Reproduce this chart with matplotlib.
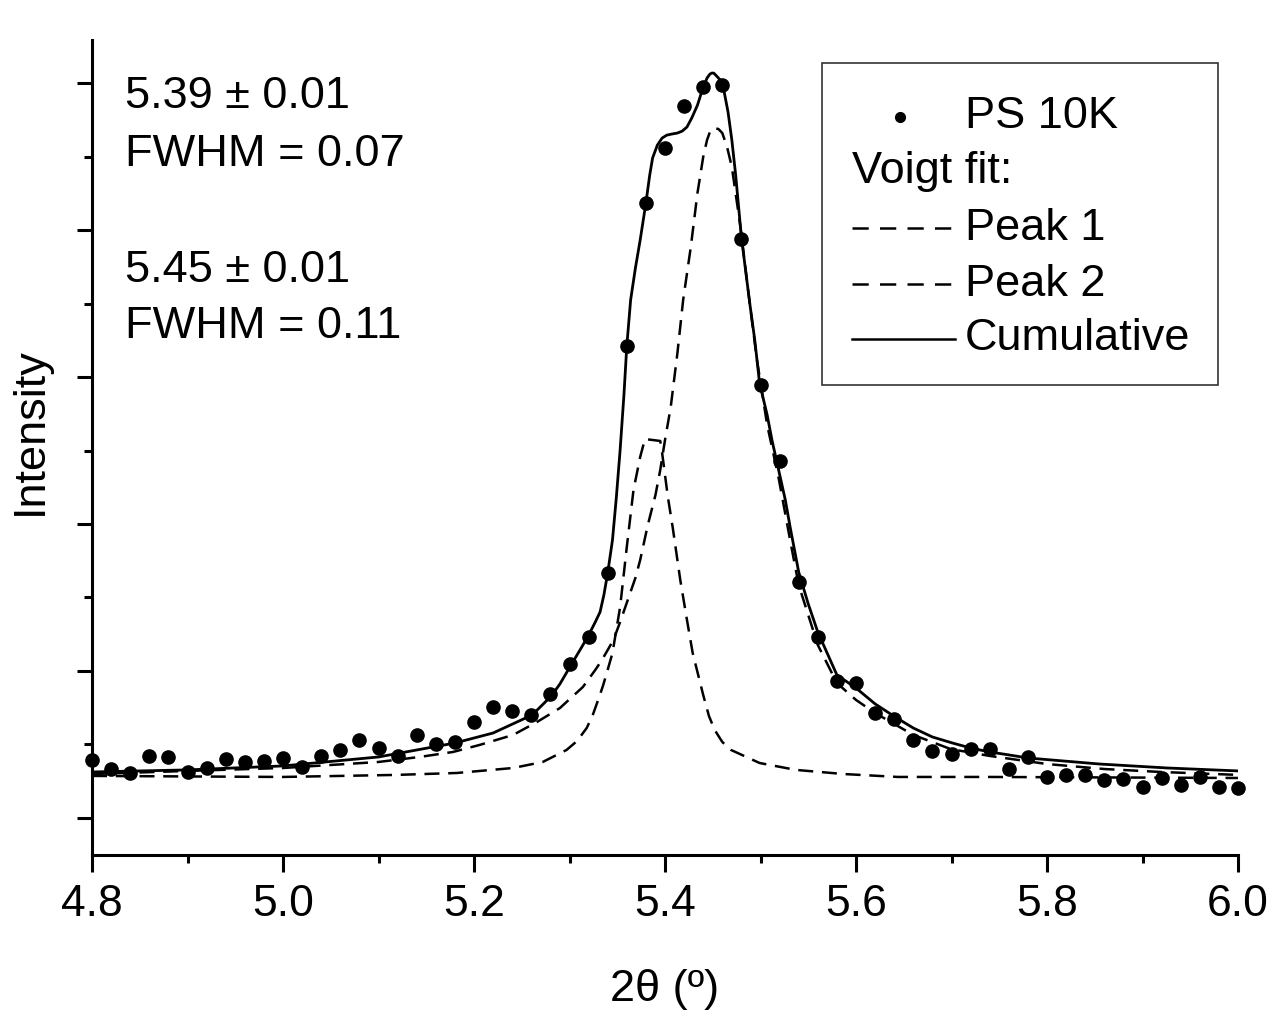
import matplotlib
matplotlib.use("Agg")
import matplotlib.pyplot as plt
from matplotlib.lines import Line2D
from matplotlib.patches import Rectangle
from matplotlib.ticker import MultipleLocator

plt.rcParams['font.family'] = ['Liberation Sans', 'DejaVu Sans']

# ---- measured data (2theta step 0.02) ----
two_theta = [4.80 + 0.02 * i for i in range(61)]
intensity = [0.395, 0.333, 0.306, 0.422, 0.415, 0.313, 0.340, 0.401, 0.381, 0.388,
             0.408, 0.347, 0.422, 0.463, 0.531, 0.476, 0.422, 0.565, 0.503, 0.517,
             0.653, 0.755, 0.728, 0.701, 0.844, 1.048, 1.231, 1.667, 3.211, 4.184,
             4.558, 4.844, 4.973, 4.986, 3.939, 2.946, 2.429, 1.605, 1.231, 0.932,
             0.918, 0.714, 0.673, 0.531, 0.456, 0.435, 0.469, 0.469, 0.333, 0.415,
             0.279, 0.293, 0.293, 0.259, 0.265, 0.211, 0.272, 0.224, 0.279, 0.211,
             0.204]

# ---- Voigt fit curves ----
cum_x = [4.800, 4.900, 5.000, 5.100, 5.180, 5.220, 5.261, 5.281, 5.290, 5.301,
         5.311, 5.319, 5.327, 5.332, 5.336, 5.340, 5.345, 5.349, 5.353, 5.357,
         5.360, 5.364, 5.369, 5.374, 5.380, 5.384, 5.387, 5.392, 5.397, 5.402,
         5.407, 5.413, 5.418, 5.423, 5.428, 5.434, 5.439, 5.444, 5.447, 5.449,
         5.451, 5.454, 5.458, 5.462, 5.466, 5.470, 5.474, 5.480, 5.485, 5.489,
         5.494, 5.499, 5.507, 5.512, 5.519, 5.526, 5.531, 5.536, 5.540, 5.550,
         5.560, 5.580, 5.600, 5.620, 5.641, 5.660, 5.680, 5.701, 5.720, 5.740,
         5.760, 5.780, 5.855, 5.926, 6.000]
cum_y = [0.313, 0.327, 0.354, 0.415, 0.510, 0.578, 0.701, 0.830, 0.912, 1.034,
         1.143, 1.231, 1.333, 1.401, 1.517, 1.667, 1.891, 2.177, 2.503, 2.878,
         3.211, 3.524, 3.741, 3.932, 4.184, 4.374, 4.490, 4.578, 4.626, 4.646,
         4.653, 4.660, 4.673, 4.701, 4.762, 4.850, 4.952, 5.034, 5.061, 5.068,
         5.068, 5.048, 5.020, 4.939, 4.803, 4.612, 4.374, 3.952, 3.694, 3.490,
         3.252, 2.959, 2.741, 2.571, 2.367, 2.163, 1.980, 1.810, 1.673, 1.456,
         1.265, 0.973, 0.884, 0.776, 0.687, 0.612, 0.551, 0.510, 0.476, 0.449,
         0.429, 0.408, 0.367, 0.340, 0.320]

peak1_x = [4.800, 5.000, 5.119, 5.182, 5.241, 5.272, 5.297, 5.308, 5.318, 5.324,
           5.330, 5.335, 5.339, 5.345, 5.353, 5.360, 5.367, 5.374, 5.379, 5.395,
           5.397, 5.403, 5.408, 5.416, 5.423, 5.429, 5.440, 5.446, 5.452, 5.460,
           5.469, 5.499, 5.537, 5.587, 5.644, 5.739, 6.000]
peak1_y = [0.286, 0.279, 0.293, 0.306, 0.340, 0.381, 0.463, 0.524, 0.612, 0.694,
           0.803, 0.898, 0.986, 1.122, 1.435, 1.844, 2.231, 2.456, 2.578, 2.565,
           2.483, 2.184, 1.980, 1.619, 1.347, 1.122, 0.837, 0.694, 0.599, 0.517,
           0.463, 0.374, 0.327, 0.299, 0.279, 0.279, 0.272]

peak2_x = [4.800, 4.900, 5.000, 5.100, 5.143, 5.178, 5.206, 5.241, 5.266, 5.290,
           5.314, 5.327, 5.334, 5.346, 5.353, 5.361, 5.369, 5.374, 5.382, 5.390,
           5.395, 5.400, 5.406, 5.413, 5.419, 5.427, 5.434, 5.440, 5.444, 5.447,
           5.449, 5.452, 5.456, 5.460, 5.465, 5.470, 5.479, 5.487, 5.496, 5.507,
           5.519, 5.531, 5.540, 5.560, 5.580, 5.600, 5.620, 5.660, 5.699, 5.740,
           5.800, 5.860, 5.919, 6.000]
peak2_y = [0.299, 0.320, 0.340, 0.381, 0.415, 0.449, 0.497, 0.565, 0.653, 0.748,
           0.891, 1.007, 1.075, 1.211, 1.333, 1.483, 1.633, 1.755, 1.993, 2.197,
           2.367, 2.571, 2.796, 3.163, 3.524, 3.884, 4.252, 4.497, 4.612, 4.667,
           4.687, 4.694, 4.687, 4.660, 4.565, 4.429, 4.020, 3.592, 3.129, 2.673,
           2.313, 1.891, 1.585, 1.177, 0.918, 0.803, 0.714, 0.565, 0.469, 0.422,
           0.367, 0.333, 0.313, 0.293]

xticks = [4.8, 5.0, 5.2, 5.4, 5.6, 5.8, 6.0]
xtick_labels = ["4.8", "5.0", "5.2", "5.4", "5.6", "5.8", "6.0"]
annotations = ["5.39 \u00b1 0.01", "FWHM = 0.07", "5.45 \u00b1 0.01", "FWHM = 0.11"]
legend_labels = ["PS 10K", "Voigt fit:", "Peak 1", "Peak 2", "Cumulative"]

W, H = 1285, 1014
fig = plt.figure(figsize=(W / 100, H / 100), dpi=100)
ax = fig.add_axes([92 / W, 1 - 855 / H, (1238 - 92) / W, (855 - 40) / H])

dash = (6, 3.5)
ax.plot(peak1_x, peak1_y, color='black', lw=1.8, ls='--', dashes=dash)
ax.plot(peak2_x, peak2_y, color='black', lw=1.8, ls='--', dashes=dash)
ax.plot(cum_x, cum_y, color='black', lw=2.0, solid_joinstyle='round')
ax.plot(two_theta, intensity, 'o', color='black', ms=9.5, mec='black', clip_on=False)

ax.set_xlim(4.8, 6.0)
ax.set_ylim(-0.252, 5.293)
ax.set_xticks(xticks)
ax.set_xticklabels(xtick_labels)
ax.xaxis.set_minor_locator(MultipleLocator(0.1))
ax.yaxis.set_major_locator(MultipleLocator(1.0))
ax.yaxis.set_minor_locator(MultipleLocator(0.5))
ax.set_yticklabels([])
for s in ['top', 'right']:
    ax.spines[s].set_visible(False)
for s in ['left', 'bottom']:
    ax.spines[s].set_linewidth(2.2)
ax.tick_params(axis='x', which='major', direction='out', length=12, width=2.2,
               labelsize=32, pad=9)
ax.tick_params(axis='x', which='minor', direction='out', length=6, width=2.2)
ax.tick_params(axis='y', which='major', direction='out', length=11, width=2.2)
ax.tick_params(axis='y', which='minor', direction='out', length=6, width=2.2)

# axis titles
fig.text(665 / W, 1 - 990 / H, "2\u03b8 (\u00ba)", fontsize=32.5, ha='center', va='center')
fig.text(30 / W, 1 - 431 / H, "Intensity", fontsize=32.5, ha='center', va='center',
         rotation=90)

# annotations
ann_y = [97, 155, 270, 327]
for txt, py in zip(annotations, ann_y):
    fig.text(125 / W, 1 - py / H, txt, fontsize=32.5, ha='left', va='center')

# legend (drawn manually)
fig.patches.append(Rectangle((822 / W, 1 - 385 / H), (1218 - 822) / W, (385 - 63) / H,
                             transform=fig.transFigure, fill=False,
                             edgecolor='#333333', lw=1.2))
rows = [117, 172, 228, 284, 339]
fig.lines.append(Line2D([900 / W], [1 - rows[0] / H], marker='o', ms=7, color='black',
                        ls='none', transform=fig.transFigure))
fig.text(965 / W, 1 - rows[0] / H, legend_labels[0], fontsize=32.5, va='center', ha='left')
fig.text(852 / W, 1 - rows[1] / H, legend_labels[1], fontsize=32.5, va='center', ha='left')
for i, style in zip([2, 3, 4], ['--', '--', '-']):
    ln = Line2D([852 / W, 955 / W], [1 - rows[i] / H] * 2, color='black', lw=1.8,
                ls=style, transform=fig.transFigure)
    if style == '--':
        ln.set_dashes((6.5, 4.5))
    fig.lines.append(ln)
    fig.text(965 / W, 1 - rows[i] / H, legend_labels[i], fontsize=32.5, va='center', ha='left')

fig.savefig("out.png", dpi=100)
